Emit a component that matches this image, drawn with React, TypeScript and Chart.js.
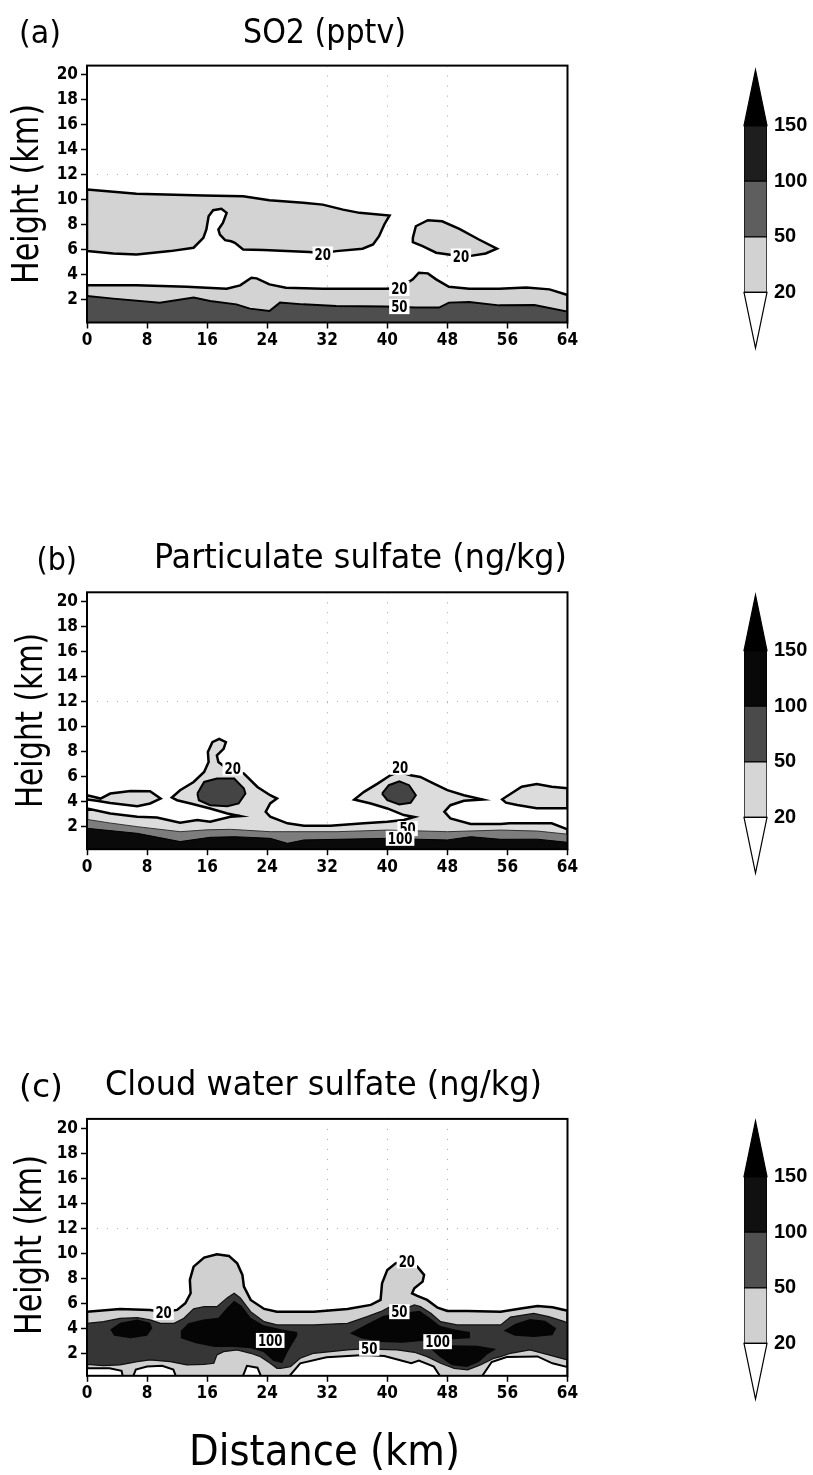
import React, { useEffect, useRef } from "react";
import { Chart, registerables } from "chart.js";

Chart.register(...registerables);

type Pt = [number, number];

// ---------- shared axes ----------
const X_TICKS = [0, 8, 16, 24, 32, 40, 48, 56, 64];
const Y_TICKS = [2, 4, 6, 8, 10, 12, 14, 16, 18, 20];
const X_RANGE: [number, number] = [0, 64];
const Y_RANGE: [number, number] = [0.2, 20.75];
const DOTTED_X = [32, 40, 48];
const DOTTED_Y = [12];

// ---------- colour bar ----------
const COLORBAR_LABELS = ["20", "50", "100", "150"];
const COLORBAR_BOUNDS = [0, 1, 2, 3, 4, 5];

// ---------- (a) SO2, pptv ----------
const SO2_20_UPPER: Pt[] = [
  [0, 10.83], [6.6, 10.5], [15.5, 10.35], [20.8, 10.3], [24.3, 9.98], [28.8, 9.77],
  [31.4, 9.63], [34.1, 9.23], [36.3, 8.97], [40.3, 8.76], [39.6, 8.04], [38.9, 7.1],
  [38.1, 6.44], [36.7, 6.1], [33.2, 5.91], [31.4, 5.75], [29.6, 5.83], [23.5, 6.0],
  [20.8, 6.04], [19.7, 6.57], [19.2, 6.7], [18.4, 6.79], [17.7, 7.24], [17.5, 7.64],
  [18.1, 8.17], [18.6, 8.97], [17.9, 9.29], [16.8, 9.18], [16.2, 8.7], [15.9, 7.64],
  [15.5, 6.97], [14.2, 6.18], [11.1, 5.91], [6.6, 5.64], [3.5, 5.72], [0, 5.91],
];
const SO2_20_EAST: Pt[] = [
  [43.4, 6.97], [43.8, 7.9], [45.4, 8.38], [47.3, 8.3], [49.6, 7.69], [52.2, 6.84],
  [54.6, 6.1], [53.1, 5.72], [50.9, 5.51], [49.8, 5.5], [46.5, 5.78], [44.7, 6.31], [43.4, 6.63],
];
const SO2_20_LOWER: Pt[] = [
  [0, 3.17], [6.6, 3.17], [13.3, 3.06], [18.6, 2.9], [20.4, 3.17], [21.9, 3.78],
  [22.6, 3.73], [24.3, 3.25], [26.5, 2.98], [31.4, 2.9], [39.8, 2.9], [41.6, 2.95],
  [43.4, 3.65], [44.2, 4.18], [45.4, 4.13], [46.5, 3.65], [48.2, 3.06], [50.9, 2.9],
  [54.9, 2.9], [58.5, 3.0], [61.6, 2.85], [64, 2.4],
];
const SO2_50: Pt[] = [
  [0, 2.32], [3.5, 2.11], [9.7, 1.79], [14.2, 2.19], [16.4, 1.92], [19.9, 1.65],
  [21.7, 1.31], [24.3, 1.12], [25.7, 1.79], [28.8, 1.65], [33.2, 1.52], [39.8, 1.47],
  [43.8, 1.39], [46.9, 1.39], [48.2, 1.79], [50.9, 1.84], [54.9, 1.57], [59.6, 1.6], [64, 1.07],
];
const SO2_LABEL_X = [31.4, 49.8, 41.6, 41.6];
const SO2_LABEL_Y = [5.68, 5.52, 2.92, 1.47];
const SO2_LABEL_TEXT = ["20", "20", "20", "50"];

// ---------- (b) particulate sulfate, ng/kg ----------
const PS_20_MAIN: Pt[] = [
  [0, 3.46], [3.1, 3.06], [6.7, 2.8], [9.3, 2.74], [12.4, 2.32], [14.7, 2.53], [16.4, 2.4],
  [19.1, 2.8], [20.4, 2.85], [18.7, 3.06], [16.4, 3.46], [13.8, 3.86], [12, 4.12],
  [11.3, 4.33], [12.4, 4.92], [14.2, 5.58], [15.6, 6.38], [16.2, 7.17], [16.1, 7.97],
  [16.7, 8.76], [17.6, 9.03], [18.5, 8.76], [18.2, 8.23], [17.3, 7.7], [17.5, 7.17],
  [18.4, 6.77], [20.9, 6.24], [22.7, 5.18], [24.4, 4.52], [25.3, 4.25], [24.4, 3.86],
  [23.8, 3.19], [24.4, 2.8], [26.7, 2.27], [28.9, 2.08], [32.4, 2.08], [36.9, 2.27],
  [40, 2.4], [42.2, 2.53], [43.6, 2.78], [42.2, 2.93], [40, 3.46], [37.8, 3.86],
  [35.6, 4.17], [36.9, 4.79], [38.7, 5.45], [40.4, 6.11], [41.6, 6.4], [43.1, 6.11],
  [44.4, 5.98], [46.2, 5.45], [48, 4.92], [50.2, 4.52], [52.7, 4.17], [50.2, 4.07],
  [48.4, 3.72], [47.6, 3.19], [48.4, 2.66], [51.1, 2.21], [55.1, 2.21], [56.3, 2.27],
  [61.9, 2.27], [64, 1.79],
];
const PS_20_LENS_W: Pt[] = [
  [0, 4.52], [1.8, 4.25], [3.1, 4.65], [5.8, 4.86], [8.4, 4.84], [9.8, 4.25],
  [8.4, 3.86], [6.7, 3.64], [3.1, 3.9], [1.3, 4.07], [0, 4.18],
];
const PS_20_LENS_E: Pt[] = [
  [64, 5.07], [61.9, 5.2], [59.9, 5.41], [57.9, 5.2], [55.3, 4.19], [55.8, 3.92],
  [57.3, 3.73], [59.9, 3.47], [64, 3.47],
];
const PS_50: Pt[] = [
  [0, 2.58], [3, 2.3], [6.7, 2.0], [12.4, 1.6], [16, 1.75], [19.1, 1.79], [24.4, 1.6],
  [33.3, 1.6], [40, 1.73], [48, 1.6], [55.1, 1.73], [60, 1.65], [64, 1.4],
];
const PS_100: Pt[] = [
  [0, 1.87], [6.7, 1.47], [12.4, 0.81], [16.4, 1.15], [19.6, 1.2], [24.4, 1.07],
  [26.7, 0.67], [28.9, 0.94], [33.3, 0.99], [40, 1.07], [44.4, 0.99], [48, 0.94],
  [51.1, 1.2], [55.1, 0.99], [60, 1.0], [64, 0.75],
];
const PS_CORE_W: Pt[] = [
  [14.7, 4.65], [15.6, 5.58], [17.3, 5.85], [19.6, 5.85], [20.9, 5.05], [21.1, 4.65],
  [20.2, 3.86], [18.7, 3.64], [16.4, 3.72], [14.9, 4.12],
];
const PS_CORE_E: Pt[] = [
  [39.3, 4.65], [40.2, 5.32], [41.6, 5.63], [42.9, 5.32], [43.8, 4.52], [43.1, 3.91],
  [41.6, 3.78], [40, 4.12],
];
const PS_LABEL_X = [19.4, 41.7, 42.7, 41.7];
const PS_LABEL_Y = [6.7, 6.75, 1.85, 1.07];
const PS_LABEL_TEXT = ["20", "20", "50", "100"];

// ---------- (c) cloud water sulfate, ng/kg ----------
const CW_20_TOP: Pt[] = [
  [0, 5.33], [4.4, 5.55], [8.4, 5.47], [10.2, 5.3], [12, 5.47], [13.1, 6.0], [13.8, 6.8],
  [13.7, 7.87], [14.2, 8.93], [15.6, 9.65], [17.3, 9.92], [18.9, 9.79], [20, 9.2],
  [20.7, 8.27], [20.9, 7.33], [21.8, 6.27], [23.6, 5.55], [25.3, 5.33], [30.2, 5.33],
  [34.7, 5.55], [37.8, 5.87], [39.1, 6.27], [39.3, 7.6], [40, 8.67], [41.1, 9.2],
  [42.7, 9.45], [44, 8.93], [44.9, 8.27], [44.7, 7.73], [43.6, 7.2], [43.3, 6.8],
  [44, 6.6], [45.3, 6.27], [46.7, 5.65], [48, 5.39], [50.7, 5.39], [55.1, 5.33],
  [58, 5.6], [60, 5.79], [62, 5.68], [64, 5.41],
];
const CW_50_BAND: Pt[] = [
  [0, 4.4], [2.2, 4.53], [4.4, 4.8], [6.7, 4.85], [8.4, 4.67], [9.8, 4.4], [11.6, 4.4],
  [12.9, 4.8], [14.2, 5.55], [15.6, 5.73], [17.3, 5.73], [18.7, 6.45], [19.6, 6.8],
  [20.4, 6.45], [21.8, 5.33], [23.6, 4.53], [25.3, 4.27], [30.2, 4.27], [34.7, 4.4],
  [37.3, 4.93], [39.1, 5.33], [40.4, 5.73], [42.7, 5.65], [43.6, 5.87], [44.4, 5.73],
  [45.8, 5.2], [47.1, 4.53], [49.3, 4.27], [55.1, 4.27], [56.4, 4.9], [59.5, 5.2],
  [61.5, 4.93], [63.6, 4.53], [64, 4.4],
  [64, 1.47], [61.5, 1.87], [59, 2.27], [56.4, 2.0], [55.1, 1.73], [54.2, 1.6],
  [52.4, 1.07], [50.7, 0.67], [48.9, 0.8], [47.1, 1.2], [45.3, 1.73], [43.6, 2.08],
  [41.3, 2.27], [39.1, 2.32], [36.9, 2.35], [34.7, 2.27], [30.2, 2.0], [28.4, 1.6],
  [27.1, 0.93], [25.8, 0.8], [25.3, 0.8], [24.4, 1.2], [23.1, 1.73], [21.8, 2.0],
  [20, 2.27], [18.2, 2.13], [17.3, 1.87], [16.9, 1.2], [15.6, 1.12], [13.3, 1.07],
  [11.1, 1.33], [8.4, 1.47], [6.7, 1.33], [4.4, 1.07], [2.2, 1.01], [0, 1.12],
];
const CW_100_OVAL: Pt[] = [
  [3.1, 3.9], [4.4, 4.45], [6.7, 4.7], [8.4, 4.45], [8.7, 4.0], [8, 3.4], [5.8, 3.2], [3.6, 3.4],
];
const CW_100_WEST: Pt[] = [
  [12.5, 3.8], [13.5, 4.4], [15.5, 4.7], [17.5, 4.85], [18.6, 5.6], [19.6, 6.2],
  [20.6, 5.8], [21.8, 4.85], [23.5, 4.25], [26, 3.9], [28, 3.7], [28, 3.4], [26.8, 2.2],
  [26, 1.2], [24.8, 1.4], [23.5, 2.1], [21.8, 2.4], [19.5, 2.5], [17, 2.5], [14.5, 2.8], [12.5, 3.2],
];
const CW_100_MID: Pt[] = [
  [35, 3.6], [37.5, 4.4], [39.5, 5.0], [41, 5.15], [43, 5.3], [44.3, 5.4], [45.5, 4.9],
  [47, 4.2], [49, 3.9], [51, 3.7], [51, 3.2], [48, 3.1], [45, 3.0], [42, 2.85], [39, 2.9], [36.5, 3.2],
];
const CW_100_TROUGH: Pt[] = [
  [45.5, 2.5], [47, 1.7], [48.6, 1.05], [50.6, 0.9], [52.2, 1.3], [53.3, 1.9], [54.5, 2.35],
  [52, 2.6], [48.5, 2.65],
];
const CW_100_EAST: Pt[] = [
  [55.5, 3.8], [57, 4.35], [59, 4.75], [61, 4.6], [62.5, 4.0], [62, 3.45], [59.5, 3.3], [57, 3.4],
];
const CW_LOW_0: Pt[] = [[0, -1], [0, 0.8], [3, 0.8], [4.6, 0.6], [5.2, -1]];
const CW_LOW_1: Pt[] = [[5.4, -1], [6.5, 0.7], [8, 0.95], [10, 1.0], [11.5, 0.7], [12.6, -1]];
const CW_LOW_2: Pt[] = [[20, -1], [21.3, 1.0], [22.7, 0.85], [24, -1]];
const CW_LOW_3: Pt[] = [
  [25.3, -1], [28.4, 1.2], [31.9, 1.68], [37, 1.87], [39.6, 1.79], [41.6, 1.47],
  [43.2, 1.2], [44.2, 1.41], [46.2, 0.93], [48.3, -1],
];
const CW_LOW_4: Pt[] = [
  [51.3, -1], [53.9, 1.3], [55.9, 1.7], [60, 1.75], [62, 1.2], [64, 0.9], [64, -1],
];
const CW_LABEL_X = [10.2, 42.6, 41.6, 24.4, 37.6, 46.7];
const CW_LABEL_Y = [5.27, 9.4, 5.33, 3.03, 2.4, 2.93];
const CW_LABEL_TEXT = ["20", "20", "50", "100", "50", "100"];

// ---------- styling ----------
const TITLE_FONT = '"DejaVu Sans Condensed", "DejaVu Sans", sans-serif';
const TICK_FONT = '"Liberation Sans Narrow", "DejaVu Sans Condensed", sans-serif';
const BAR_FONT = '"Liberation Sans", Arial, sans-serif';

const PLOT_LEFT = 87;
const PLOT_RIGHT = 567.5;
const PANEL_W = 600;

interface Layer { pts: Pt[]; fill: string; line: string; width: number }
interface TextBox { text: string; left: number; width: number; baseline: number; size: number }
interface PanelSpec {
  top: number; height: number; plotTop: number; plotBottom: number;
  layers: Layer[];
  labelX: number[]; labelY: number[]; labelText: string[];
  letter: TextBox; title: TextBox;
  yTitle: { baselineX: number; centerY: number; length: number; size: number };
  xTitle?: TextBox;
  bar: { top: number; colors: string[] };
}

const closed = (p: Pt[]): Pt[] => [...p, p[0]];
const toFloor = (p: Pt[]): Pt[] => [...p, [X_RANGE[1], -1], [X_RANGE[0], -1], p[0]];

const PANELS: PanelSpec[] = [
  {
    top: 0, height: 370, plotTop: 65.6, plotBottom: 322.5,
    layers: [
      { pts: toFloor(SO2_20_LOWER), fill: "#d3d3d3", line: "#000", width: 2.5 },
      { pts: toFloor(SO2_50), fill: "#4e4e4e", line: "#000", width: 2 },
      { pts: closed(SO2_20_UPPER), fill: "#d3d3d3", line: "#000", width: 2.5 },
      { pts: closed(SO2_20_EAST), fill: "#d3d3d3", line: "#000", width: 2.5 },
    ],
    labelX: SO2_LABEL_X, labelY: SO2_LABEL_Y, labelText: SO2_LABEL_TEXT,
    letter: { text: "(a)", left: 19, width: 42, baseline: 43, size: 32 },
    title: { text: "SO2 (pptv)", left: 243, width: 163, baseline: 43, size: 34 },
    yTitle: { baselineX: 38, centerY: 194, length: 180, size: 38 },
    bar: { top: 66.5, colors: ["#d2d2d2", "#5e5e5e", "#1e1e1e", "#000"] },
  },
  {
    top: 510, height: 370, plotTop: 592.3, plotBottom: 849.2,
    layers: [
      { pts: toFloor(PS_20_MAIN), fill: "#dcdcdc", line: "#000", width: 2.5 },
      { pts: closed(PS_20_LENS_W), fill: "#dcdcdc", line: "#000", width: 2.5 },
      { pts: closed(PS_20_LENS_E), fill: "#dcdcdc", line: "#000", width: 2.5 },
      { pts: toFloor(PS_50), fill: "#7d7d7d", line: "#333", width: 1 },
      { pts: toFloor(PS_100), fill: "#0a0a0a", line: "#000", width: 1 },
      { pts: closed(PS_CORE_W), fill: "#444", line: "#000", width: 2 },
      { pts: closed(PS_CORE_E), fill: "#444", line: "#000", width: 2 },
    ],
    labelX: PS_LABEL_X, labelY: PS_LABEL_Y, labelText: PS_LABEL_TEXT,
    letter: { text: "(b)", left: 36.5, width: 40.5, baseline: 570, size: 32 },
    title: { text: "Particulate sulfate (ng/kg)", left: 154, width: 413, baseline: 568, size: 34 },
    yTitle: { baselineX: 42, centerY: 720.5, length: 175, size: 38 },
    bar: { top: 592, colors: ["#d6d6d6", "#4a4a4a", "#080808", "#000"] },
  },
  {
    top: 1040, height: 435, plotTop: 1118.9, plotBottom: 1375.8,
    layers: [
      { pts: toFloor(CW_20_TOP), fill: "#d0d0d0", line: "#000", width: 2.5 },
      { pts: closed(CW_LOW_0), fill: "#fff", line: "#000", width: 2 },
      { pts: closed(CW_LOW_1), fill: "#fff", line: "#000", width: 2 },
      { pts: closed(CW_LOW_2), fill: "#fff", line: "#000", width: 2 },
      { pts: closed(CW_LOW_3), fill: "#fff", line: "#000", width: 2 },
      { pts: closed(CW_LOW_4), fill: "#fff", line: "#000", width: 2 },
      { pts: closed(CW_50_BAND), fill: "#363636", line: "#111", width: 1.2 },
      { pts: closed(CW_100_OVAL), fill: "#050505", line: "#050505", width: 0 },
      { pts: closed(CW_100_WEST), fill: "#050505", line: "#050505", width: 0 },
      { pts: closed(CW_100_MID), fill: "#050505", line: "#050505", width: 0 },
      { pts: closed(CW_100_TROUGH), fill: "#050505", line: "#050505", width: 0 },
      { pts: closed(CW_100_EAST), fill: "#050505", line: "#050505", width: 0 },
    ],
    labelX: CW_LABEL_X, labelY: CW_LABEL_Y, labelText: CW_LABEL_TEXT,
    letter: { text: "(c)", left: 19, width: 44, baseline: 1097, size: 32 },
    title: { text: "Cloud water sulfate (ng/kg)", left: 105, width: 437, baseline: 1095, size: 34 },
    yTitle: { baselineX: 41, centerY: 1245, length: 180, size: 38 },
    xTitle: { text: "Distance (km)", left: 189, width: 271, baseline: 1465, size: 42 },
    bar: { top: 1117.5, colors: ["#d0d0d0", "#505050", "#101010", "#000"] },
  },
];

// ---------- drawing helpers ----------
function drawFitted(ctx: CanvasRenderingContext2D, t: TextBox, dy: number) {
  ctx.save();
  ctx.font = `normal ${t.size}px ${TITLE_FONT}`;
  const w = ctx.measureText(t.text).width;
  ctx.translate(t.left, t.baseline - dy);
  ctx.scale(t.width / w, 1);
  ctx.textAlign = "left";
  ctx.textBaseline = "alphabetic";
  ctx.fillStyle = "#000";
  ctx.fillText(t.text, 0, 0);
  ctx.restore();
}

function drawVertical(ctx: CanvasRenderingContext2D, text: string, baselineX: number, centerY: number, length: number, size: number) {
  ctx.save();
  ctx.font = `normal ${size}px ${TITLE_FONT}`;
  const w = ctx.measureText(text).width;
  ctx.translate(baselineX, centerY + length / 2);
  ctx.rotate(-Math.PI / 2);
  ctx.scale(length / w, 1);
  ctx.textAlign = "left";
  ctx.textBaseline = "alphabetic";
  ctx.fillStyle = "#000";
  ctx.fillText(text, 0, 0);
  ctx.restore();
}

function panelPlugin(spec: PanelSpec) {
  return {
    id: "panelDecor",
    afterDatasetsDraw(chart: any) {
      const { ctx, chartArea: a, scales } = chart;
      ctx.save();
      ctx.strokeStyle = "#000";
      ctx.lineWidth = 2;
      ctx.strokeRect(a.left, a.top, a.right - a.left, a.bottom - a.top);
      // contour labels
      ctx.font = `bold 16px ${TICK_FONT}`;
      spec.labelText.forEach((text, i) => {
        const px = scales.x.getPixelForValue(spec.labelX[i]);
        const py = scales.y.getPixelForValue(spec.labelY[i]);
        const natural = ctx.measureText(text).width;
        const w = 8.2 * text.length;
        ctx.fillStyle = "#fff";
        ctx.fillRect(px - w / 2 - 2, py - 7.5, w + 4, 15);
        ctx.save();
        ctx.translate(px - w / 2, py + 5.8);
        ctx.scale(w / natural, 1);
        ctx.fillStyle = "#000";
        ctx.textBaseline = "alphabetic";
        ctx.fillText(text, 0, 0);
        ctx.restore();
      });
      ctx.restore();
    },
    afterDraw(chart: any) {
      const ctx = chart.ctx;
      const dy = spec.top;
      drawFitted(ctx, spec.letter, dy);
      drawFitted(ctx, spec.title, dy);
      drawVertical(ctx, "Height (km)", spec.yTitle.baselineX, spec.yTitle.centerY - dy, spec.yTitle.length, spec.yTitle.size);
      if (spec.xTitle) drawFitted(ctx, spec.xTitle, dy);
    },
  };
}

function panelConfig(spec: PanelSpec): any {
  const n = spec.layers.length;
  return {
    type: "scatter",
    data: {
      datasets: spec.layers.map((l, i) => ({
        data: l.pts.map(([x, y]) => ({ x, y })),
        showLine: true,
        fill: "shape",
        backgroundColor: l.fill,
        borderColor: l.line,
        borderWidth: l.width,
        pointRadius: 0,
        pointHoverRadius: 0,
        tension: 0,
        clip: 0,
        order: n - i,
      })),
    },
    options: {
      animation: false,
      responsive: false,
      devicePixelRatio: 1,
      events: [],
      layout: {
        padding: { top: spec.plotTop - spec.top, left: 0, right: PANEL_W - PLOT_RIGHT, bottom: 0 },
      },
      plugins: { legend: { display: false }, tooltip: { enabled: false }, title: { display: false } },
      scales: {
        x: {
          type: "linear",
          min: X_RANGE[0],
          max: X_RANGE[1],
          afterBuildTicks: (s: any) => { s.ticks = X_TICKS.map((v) => ({ value: v })); },
          afterFit: (s: any) => { s.height = spec.top + spec.height - spec.plotBottom; },
          ticks: { color: "#000", font: { family: TICK_FONT, size: 17, weight: "bold" }, padding: 2, maxRotation: 0, autoSkip: false },
          grid: {
            drawOnChartArea: true,
            color: (c: any) => (c.tick && DOTTED_X.includes(c.tick.value) ? "rgba(0,0,0,0.35)" : "rgba(0,0,0,0)"),
            lineWidth: 1,
            tickColor: "#000",
            tickLength: 6,
            tickWidth: 1.5,
          },
          border: { display: false, dash: [1, 9] },
        },
        y: {
          type: "linear",
          min: Y_RANGE[0],
          max: Y_RANGE[1],
          afterBuildTicks: (s: any) => { s.ticks = Y_TICKS.map((v) => ({ value: v })); },
          afterFit: (s: any) => { s.width = PLOT_LEFT; },
          ticks: { color: "#000", font: { family: TICK_FONT, size: 17, weight: "bold" }, padding: 3 },
          grid: {
            drawOnChartArea: true,
            color: (c: any) => (c.tick && DOTTED_Y.includes(c.tick.value) ? "rgba(0,0,0,0.3)" : "rgba(0,0,0,0)"),
            lineWidth: 1,
            tickColor: "#000",
            tickLength: 6,
            tickWidth: 1.5,
          },
          border: { display: false, dash: [1, 9] },
        },
      },
    },
    plugins: [panelPlugin(spec)],
  };
}

// colour bar: three floating segments between level indices, arrowheads for the open ends
const BAR_CANVAS_LEFT = 700;
const BAR_CANVAS_W = 113;
const BAR_H = 284;
const BAR_PAD = 16;

function colorbarConfig(colors: string[]): any {
  const segments = [1, 2, 3];
  return {
    type: "bar",
    data: {
      labels: [""],
      datasets: segments.map((k) => ({
        data: [[COLORBAR_BOUNDS[k], COLORBAR_BOUNDS[k + 1]]],
        backgroundColor: colors[k - 1],
        borderColor: "#000",
        borderWidth: 1,
        borderSkipped: false,
        barPercentage: 1,
        categoryPercentage: 1,
        grouped: false,
      })),
    },
    options: {
      animation: false,
      responsive: false,
      devicePixelRatio: 1,
      events: [],
      layout: { padding: { top: BAR_PAD, bottom: BAR_PAD, left: 44, right: 0 } },
      plugins: { legend: { display: false }, tooltip: { enabled: false } },
      scales: {
        x: { display: false },
        y: {
          min: COLORBAR_BOUNDS[0],
          max: COLORBAR_BOUNDS[5],
          position: "right",
          afterBuildTicks: (s: any) => { s.ticks = COLORBAR_BOUNDS.slice(1, 5).map((v) => ({ value: v })); },
          afterFit: (s: any) => { s.width = 46; },
          ticks: {
            color: "#000",
            padding: 7,
            font: { family: BAR_FONT, size: 20, weight: "bold" },
            callback: (v: number) => COLORBAR_LABELS[COLORBAR_BOUNDS.indexOf(v) - 1],
          },
          grid: { display: false, drawTicks: false, tickLength: 0 },
          border: { display: false },
        },
      },
    },
    plugins: [
      {
        id: "arrowheads",
        afterDatasetsDraw(chart: any) {
          const { ctx, chartArea: a, scales } = chart;
          const y = scales.y;
          const mid = (a.left + a.right) / 2;
          ctx.save();
          // below lowest level: white arrow pointing down
          ctx.beginPath();
          ctx.moveTo(a.left, y.getPixelForValue(COLORBAR_BOUNDS[1]));
          ctx.lineTo(a.right, y.getPixelForValue(COLORBAR_BOUNDS[1]));
          ctx.lineTo(mid, y.getPixelForValue(COLORBAR_BOUNDS[0]));
          ctx.closePath();
          ctx.fillStyle = "#fff";
          ctx.fill();
          ctx.strokeStyle = "#000";
          ctx.lineWidth = 1.2;
          ctx.stroke();
          // above highest level: black arrow pointing up
          ctx.beginPath();
          ctx.moveTo(a.left, y.getPixelForValue(COLORBAR_BOUNDS[4]));
          ctx.lineTo(a.right, y.getPixelForValue(COLORBAR_BOUNDS[4]));
          ctx.lineTo(mid, y.getPixelForValue(COLORBAR_BOUNDS[5]));
          ctx.closePath();
          ctx.fillStyle = colors[3];
          ctx.fill();
          ctx.stroke();
          ctx.restore();
        },
      },
    ],
  };
}

function ChartCanvas({ config, left, top, width, height }: { config: any; left: number; top: number; width: number; height: number }) {
  const ref = useRef<HTMLCanvasElement>(null);
  useEffect(() => {
    const chart = new Chart(ref.current as HTMLCanvasElement, config);
    return () => chart.destroy();
  }, [config]);
  return (
    <canvas
      ref={ref}
      width={width}
      height={height}
      style={{ position: "absolute", left, top, width, height, display: "block" }}
    />
  );
}

const PANEL_CONFIGS = PANELS.map((p) => panelConfig(p));
const BAR_CONFIGS = PANELS.map((p) => colorbarConfig(p.bar.colors));

export default function App() {
  useEffect(() => {
    document.body.style.margin = "0";
    document.body.style.background = "#fff";
  }, []);
  return (
    <div style={{ position: "relative", width: 813, height: 1475, background: "#fff", overflow: "hidden" }}>
      {PANELS.map((p, i) => (
        <React.Fragment key={i}>
          <ChartCanvas config={PANEL_CONFIGS[i]} left={0} top={p.top} width={PANEL_W} height={p.height} />
          <ChartCanvas
            config={BAR_CONFIGS[i]}
            left={BAR_CANVAS_LEFT}
            top={p.bar.top - BAR_PAD}
            width={BAR_CANVAS_W}
            height={BAR_H + 2 * BAR_PAD}
          />
        </React.Fragment>
      ))}
    </div>
  );
}
